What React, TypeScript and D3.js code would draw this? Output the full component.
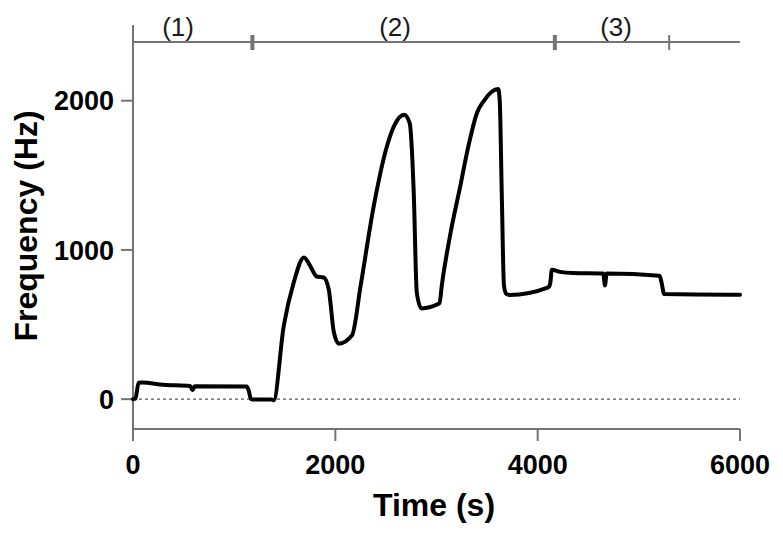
import React from 'react';
import * as d3 from 'd3';

// trace: time (s) and frequency (Hz)
const times = [0, 25, 55, 90, 300, 565, 588, 610, 1125, 1145, 1165, 1200, 1370, 1390, 1490, 1590, 1690, 1750, 1815, 1885, 1935, 1985, 2035, 2165, 2250, 2380, 2510, 2580, 2680, 2735, 2775, 2805, 2850, 3030, 3052, 3135, 3235, 3315, 3400, 3465, 3610, 3625, 3645, 3667, 3690, 3720, 4105, 4125, 4140, 4220, 4350, 4648, 4665, 4682, 5205, 5225, 5250, 6000];
const freqs = [0, 5, 110, 112, 97, 88, 60, 87, 85, 55, 2, -3, -2, -8, 490, 785, 950, 895, 822, 815, 735, 450, 372, 428, 760, 1295, 1695, 1830, 1906, 1850, 1385, 716, 608, 642, 760, 1100, 1428, 1695, 1918, 1996, 2078, 2000, 1384, 760, 705, 698, 749, 780, 867, 853, 845, 842, 762, 842, 827, 780, 705, 700];

const xTicks = [0, 2000, 4000, 6000];
const yTicks = [0, 1000, 2000];

// phase bar on top
const phaseTicks = [0, 1180, 4170, 5300];
const phaseThick = [false, true, true, false];
const phaseLabels = ['(1)', '(2)', '(3)'];
const phaseLabelAt = [445, 2590, 4775];

const W = 783;
const H = 534;
const font = '"Liberation Sans", Arial, sans-serif';
const axisGray = '#747474';

export default function App() {
  const x = d3.scaleLinear().domain([0, 6000]).range([133, 740]);
  const y = d3.scaleLinear().domain([-200, 2400]).range([429, 41]);

  const pts: [number, number][] = times.map((t, i) => [t, freqs[i]]);
  const line = d3
    .line<[number, number]>()
    .x(d => x(d[0]))
    .y(d => y(d[1]))
    .curve(d3.curveMonotoneX);

  const bandY = 42;

  return (
    <svg width={W} height={H} style={{ position: 'absolute', left: 0, top: 0, background: '#fff' }}>
      {/* top phase bar */}
      <line x1={x(0)} x2={x(6000)} y1={bandY} y2={bandY} stroke={axisGray} strokeWidth={2} />
      {phaseTicks.map((t, i) => (
        <line
          key={'pt' + i}
          x1={x(t)}
          x2={x(t)}
          y1={i === 0 ? 25 : 35}
          y2={50}
          stroke={axisGray}
          strokeWidth={phaseThick[i] ? 4 : 2}
        />
      ))}
      {phaseLabels.map((s, i) => (
        <text
          key={'pl' + i}
          x={x(phaseLabelAt[i])}
          y={36}
          textAnchor="middle"
          fontFamily={font}
          fontSize={26}
          fill="#1a1a1a"
        >
          {s}
        </text>
      ))}

      {/* zero reference */}
      <line
        x1={x(0)}
        x2={x(6000)}
        y1={y(0)}
        y2={y(0)}
        stroke="#555"
        strokeWidth={1.2}
        strokeDasharray="3,3"
      />

      {/* y axis */}
      <line x1={x(0)} x2={x(0)} y1={y(2400)} y2={y(-200)} stroke={axisGray} strokeWidth={2} />
      {yTicks.map(v => (
        <g key={'y' + v}>
          <line x1={x(0) - 12} x2={x(0)} y1={y(v)} y2={y(v)} stroke={axisGray} strokeWidth={2} />
          <text
            x={x(0) - 19}
            y={y(v)}
            dy="0.36em"
            textAnchor="end"
            fontFamily={font}
            fontWeight="bold"
            fontSize={27}
            fill="#000"
          >
            {v}
          </text>
        </g>
      ))}

      {/* x axis */}
      <line x1={x(0)} x2={x(6000)} y1={y(-200)} y2={y(-200)} stroke={axisGray} strokeWidth={2} />
      {xTicks.map(t => (
        <g key={'x' + t}>
          <line x1={x(t)} x2={x(t)} y1={y(-200)} y2={y(-200) + 12} stroke={axisGray} strokeWidth={2} />
          <text
            x={x(t)}
            y={474}
            textAnchor="middle"
            fontFamily={font}
            fontWeight="bold"
            fontSize={27}
            fill="#000"
          >
            {t}
          </text>
        </g>
      ))}

      {/* trace */}
      <path d={line(pts) || ''} fill="none" stroke="#000" strokeWidth={4} strokeLinejoin="round" strokeLinecap="round" />

      {/* titles */}
      <text x={434} y={516} textAnchor="middle" fontFamily={font} fontWeight="bold" fontSize={32} fill="#000">
        Time (s)
      </text>
      <text
        transform="translate(37,226) rotate(-90)"
        textAnchor="middle"
        fontFamily={font}
        fontWeight="bold"
        fontSize={32}
        fill="#000"
      >
        Frequency (Hz)
      </text>
    </svg>
  );
}
